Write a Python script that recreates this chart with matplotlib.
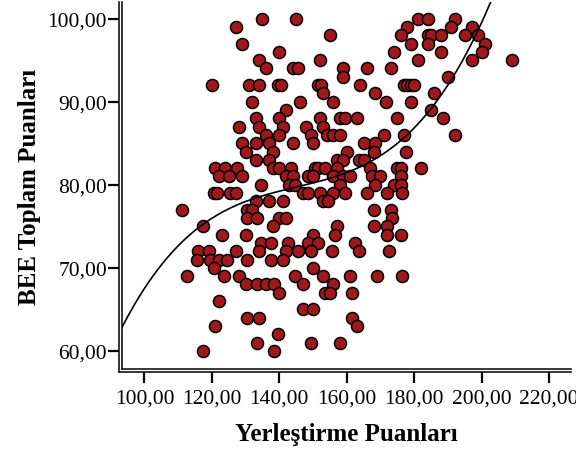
import numpy as np
import matplotlib
matplotlib.use("Agg")
import matplotlib.pyplot as plt

# Placement scores (x) grouped by BEE total score (y)
rows = {
    100: [135, 145, 181, 184, 192],
    99: [127, 178, 191, 197],
    98: [155, 176, 184, 185, 188, 195, 199],
    97: [129, 179, 184, 201],
    96: [140, 174, 188, 200],
    95: [134, 152, 181, 197, 209],
    94: [136, 144, 145.5, 159, 166, 173],
    93: [159, 190],
    92: [120, 131, 134, 139.5, 140.5, 151.5, 152.5, 164, 177, 178, 179, 180],
    91: [153, 168.5, 186],
    90: [132, 146, 156, 171.5, 179],
    89: [142, 185],
    88: [133, 140, 152, 158, 159.5, 163, 175, 188.5],
    87: [128, 134, 141, 148, 153],
    86: [136, 140, 149.5, 154, 156, 158, 171, 177, 192],
    85: [129, 133, 137, 144, 150, 165, 168.5],
    84: [130, 138, 160, 168, 177.5],
    83: [133, 137, 157, 159, 163.5, 165],
    82: [121, 124, 127.5, 138, 140, 143.5, 150.5, 151.5, 153.5, 157, 167, 175, 176, 182],
    81: [122, 125, 129, 142, 144, 148.5, 150, 156, 159, 161, 167.5, 170, 176],
    80: [134.5, 143, 144.5, 158, 168.5, 174, 176],
    79: [120.5, 121.5, 125.5, 127, 147, 148.5, 152, 156, 159.5, 166, 172, 176.5],
    78: [133, 137, 141, 153, 154.5],
    77: [111, 130.5, 132, 168, 173],
    76: [130.5, 133.5, 140, 142, 173.5],
    75: [117.5, 138, 157, 168, 172],
    74: [123, 130, 150, 156.5, 172, 176],
    73: [134.5, 137.5, 142.5, 148.5, 151.5, 162.5],
    72: [116, 119, 127, 134, 142, 145.5, 149.5, 155.5, 163.5, 172.5],
    71: [115.5, 119.5, 122, 124.5, 130.5, 137.5, 141],
    70: [120.5, 150],
    69: [112.5, 123.5, 128, 144.5, 153, 161, 169, 176.5],
    68: [130, 133.5, 136, 138.5, 147, 156],
    67: [140, 153.5, 155, 161.5],
    66: [122],
    65: [147, 150],
    64: [130.5, 134, 161.5],
    63: [121, 163],
    62: [139.5],
    61: [133.5, 149.5, 158],
    60: [117.5, 138.5],
}
x_vals = np.array([x for y, xs in rows.items() for x in xs], dtype=float)
y_vals = np.array([y for y, xs in rows.items() for x in xs], dtype=float)

x_ticks = [100, 120, 140, 160, 180, 200, 220]
y_ticks = [60, 70, 80, 90, 100]

plt.rcParams["font.family"] = ["Liberation Serif", "DejaVu Serif"]

fig = plt.figure(figsize=(5.76, 4.52), dpi=100)
ax = fig.add_axes([0.2110, 0.1810, 0.9913 - 0.2110, 0.9934 - 0.1810])

x_min, x_max = 93.2, 226.5
y_min, y_max = 57.8, 102.0

ax.scatter(x_vals, y_vals, s=75, c="#a0171c", edgecolors="black",
           linewidths=1.1, zorder=3)

# cubic fit
coef = np.polyfit(x_vals, y_vals, 3)
xs = np.linspace(x_min, x_max, 400)
ax.plot(xs, np.polyval(coef, xs), color="black", linewidth=1.2, zorder=4)

ax.set_xlim(x_min, x_max)
ax.set_ylim(y_min, y_max)

ax.set_xticks(x_ticks)
ax.set_xticklabels([f"{v},00" for v in x_ticks])
ax.set_yticks(y_ticks)
ax.set_yticklabels([f"{v},00" for v in y_ticks])
ax.tick_params(axis="both", direction="out", length=8, width=1.6,
               labelsize=15.5)
ax.tick_params(axis="x", pad=4)
ax.tick_params(axis="y", pad=0.5)

# SPSS-like double frame
for side in ["top", "right"]:
    ax.spines[side].set_visible(False)
for side in ["left", "bottom"]:
    ax.spines[side].set_position(("outward", 2.0))
    ax.spines[side].set_linewidth(1.1)
ax.spines["left"].set_bounds(y_min - 0.33, y_max)
ax.spines["bottom"].set_bounds(x_min - 0.8, x_max)
ax.plot([0, 0], [0, 1], transform=ax.transAxes, color="black",
        linewidth=1.1, clip_on=False)
ax.plot([0, 1], [0, 0], transform=ax.transAxes, color="black",
        linewidth=1.1, clip_on=False)

ax.set_xlabel("Yerleştirme Puanları", fontsize=18, fontweight="bold",
              labelpad=10)
ax.set_ylabel("BEE Toplam Puanları", fontsize=18, fontweight="bold",
              labelpad=5)

fig.savefig("out.png", dpi=100)
